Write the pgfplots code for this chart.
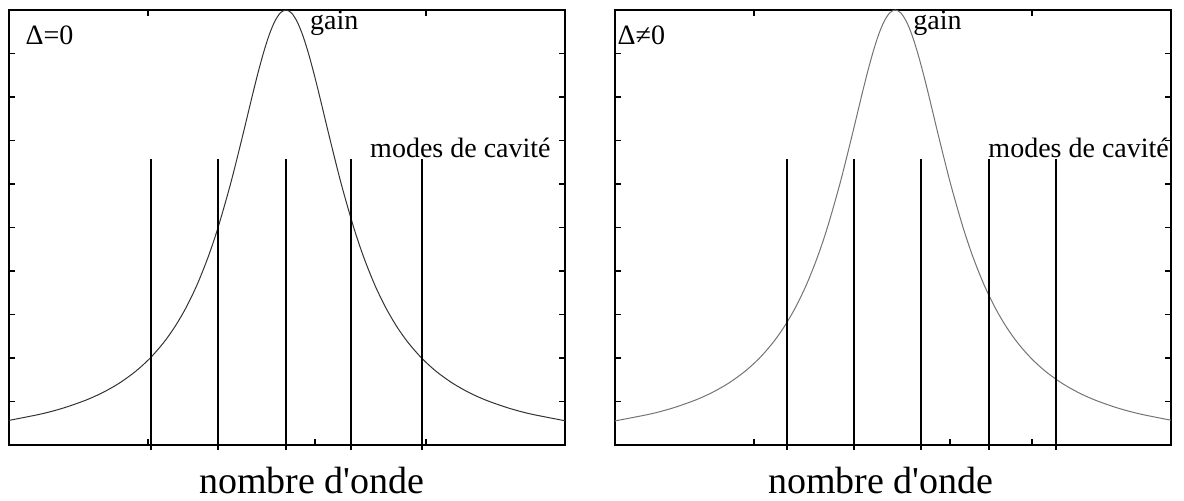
\documentclass[border=0pt]{standalone}
\usepackage{fontspec}
\setmainfont{Liberation Serif}
\usepackage{pgfplots}
\pgfplotsset{compat=1.18}

% Gain profile (Lorentzian) and cavity modes, without and with detuning
\newcommand{\gainzero}{%
(0,0.0566) (5.8,0.0714) (9.8,0.0851) (13.8,0.1030) (16.8,0.1202) (19.8,0.1419)
(22.8,0.1696) (25.4,0.2000) (27.8,0.2352) (29.8,0.2712) (31.8,0.3148) (33.8,0.3676)
(35.8,0.4316) (37.6,0.5000) (39.8,0.5981) (41.8,0.6993) (43.8,0.8052) (44.8,0.8562)
(45.8,0.9029) (46.8,0.9430) (47.8,0.9738) (48.8,0.9933) (49.8,1.0000) (50.8,0.9933)
(51.8,0.9738) (52.8,0.9430) (53.8,0.9029) (54.8,0.8562) (55.8,0.8052) (57.8,0.6993)
(59.8,0.5981) (62.0,0.5000) (63.8,0.4316) (65.8,0.3676) (67.8,0.3148) (69.8,0.2712)
(71.8,0.2352) (74.2,0.2000) (76.8,0.1696) (79.8,0.1419) (82.8,0.1202) (85.8,0.1030)
(89.8,0.0851) (93.8,0.0714) (100,0.0558)}
\newcommand{\gaindet}{%
(0,0.0554) (6.4,0.0714) (10.4,0.0851) (14.4,0.1030) (17.4,0.1202) (20.4,0.1419)
(23.4,0.1696) (26.0,0.2000) (28.4,0.2352) (30.4,0.2712) (32.4,0.3148) (34.4,0.3676)
(36.4,0.4316) (38.2,0.5000) (40.4,0.5981) (42.4,0.6993) (44.4,0.8052) (45.4,0.8562)
(46.4,0.9029) (47.4,0.9430) (48.4,0.9738) (49.4,0.9933) (50.4,1.0000) (51.4,0.9933)
(52.4,0.9738) (53.4,0.9430) (54.4,0.9029) (55.4,0.8562) (56.4,0.8052) (58.4,0.6993)
(60.4,0.5981) (62.6,0.5000) (64.4,0.4316) (66.4,0.3676) (68.4,0.3148) (70.4,0.2712)
(72.4,0.2352) (74.8,0.2000) (77.4,0.1696) (80.4,0.1419) (83.4,0.1202) (86.4,0.1030)
(90.4,0.0851) (94.4,0.0714) (100,0.0570)}

\tikzset{
  mode/.style={black, line width=1pt},
  lbl/.style={font=\fontsize{14}{16}\selectfont, inner sep=0pt},
}
\pgfplotsset{
  panel/.style={
    scale only axis,
    width=278pt, height=217.5pt,
    xmin=0, xmax=100, ymin=0, ymax=1,
    axis line style={line width=1pt},
    xtick={25,75},
    ytick={0.1,0.2,0.3,0.4,0.5,0.6,0.7,0.8,0.9},
    xticklabels={}, yticklabels={},
    tick align=inside,
    major tick length=3pt,
    tick style={line width=0.8pt, black},
    clip=false,
  },
}

\begin{document}
\begin{tikzpicture}
\useasboundingbox (0,0) rectangle (592pt,250pt);

% Delta = 0
\begin{axis}[panel, at={(4.5pt,27.5pt)}, anchor=south west,
  extra x ticks={55}, extra x tick labels={},
  extra x tick style={xtick pos=bottom}]
  \addplot[black!80, line width=0.5pt, smooth] coordinates {\gainzero};
  \addplot[mode] coordinates {(25.5,-0.012) (25.5,0.657)};
  \addplot[mode] coordinates {(37.5,-0.012) (37.5,0.657)};
  \addplot[mode] coordinates {(49.8,-0.012) (49.8,0.657)};
  \addplot[mode] coordinates {(61.6,-0.012) (61.6,0.657)};
  \addplot[mode] coordinates {(74.2,-0.012) (74.2,0.657)};
  \node[lbl, anchor=base west] at (axis cs:2.9,0.92) {Δ=0};
  \node[lbl, anchor=base west] at (axis cs:54.1,0.956) {gain};
  \node[lbl, anchor=base west] at (axis cs:64.9,0.662) {modes de cavité};
\end{axis}

% Delta != 0
\begin{axis}[panel, at={(307.5pt,27.5pt)}, anchor=south west,
  extra x ticks={60.3}, extra x tick labels={},
  extra x tick style={xtick pos=bottom}]
  \addplot[black!55, line width=0.5pt, smooth] coordinates {\gaindet};
  \addplot[mode] coordinates {(31.0,-0.012) (31.0,0.657)};
  \addplot[mode] coordinates {(43.0,-0.012) (43.0,0.657)};
  \addplot[mode] coordinates {(55.1,-0.012) (55.1,0.657)};
  \addplot[mode] coordinates {(67.3,-0.012) (67.3,0.657)};
  \addplot[mode] coordinates {(79.4,-0.012) (79.4,0.657)};
  \node[lbl, anchor=base west] at (axis cs:0.4,0.92) {Δ≠0};
  \node[lbl, anchor=base west] at (axis cs:53.6,0.956) {gain};
  \node[lbl, anchor=base west] at (axis cs:67.1,0.662) {modes de cavité};
\end{axis}

\node[anchor=base, font=\fontsize{19}{22}\selectfont, inner sep=0pt] at (156pt,3.5pt) {nombre d\textquotesingle onde};
\node[anchor=base, font=\fontsize{19}{22}\selectfont, inner sep=0pt] at (440.5pt,3.5pt) {nombre d\textquotesingle onde};
\end{tikzpicture}
\end{document}
